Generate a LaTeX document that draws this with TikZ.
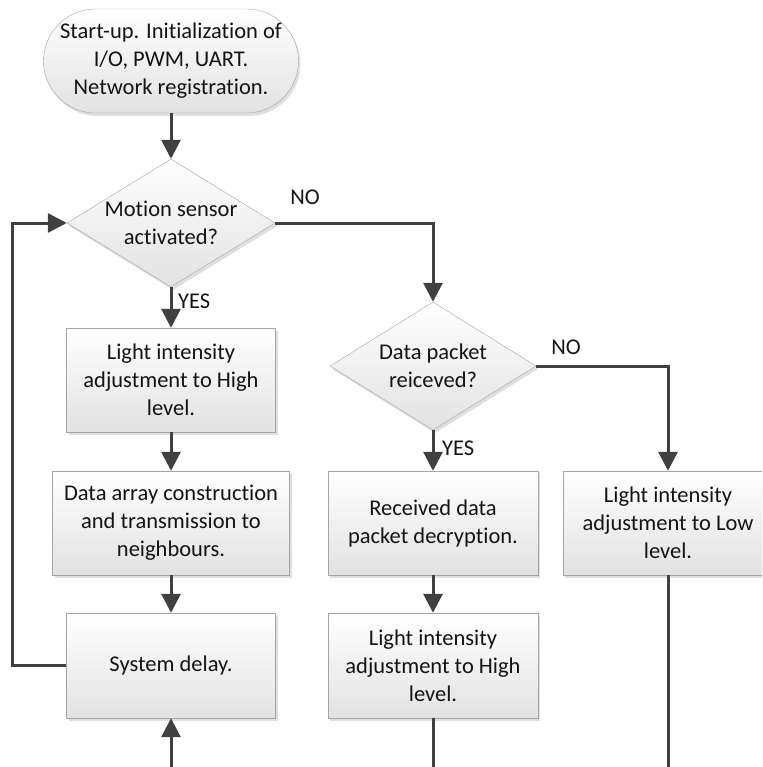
\documentclass[tikz,border=0pt]{standalone}
\usepackage{fontspec}
\setmainfont{Carlito}[Ligatures=NoCommon]
\usetikzlibrary{arrows.meta,shapes.geometric,shadows}

\definecolor{linegray}{RGB}{64,64,64}
\definecolor{boxgray}{RGB}{165,165,165}
\definecolor{fillgray}{RGB}{226,226,226}
\definecolor{textgray}{RGB}{20,20,20}

\begin{document}
\begin{tikzpicture}[
    x=1pt,
    y=-1pt,
    font=\fontsize{22.5}{28}\selectfont,
    every node/.style={
        text=textgray
    },
    start block/.style={
        rectangle,
        rounded corners=52pt,
        draw=boxgray,
        top color=white,
        bottom color=fillgray,
        drop shadow={opacity=0.25, shadow xshift=2pt, shadow yshift=-3pt},
        minimum width=255pt,
        minimum height=104pt,
        inner sep=0pt,
        align=center
    },
    action block/.style={
        rectangle,
        draw=boxgray,
        top color=white,
        bottom color=fillgray,
        drop shadow={opacity=0.25, shadow xshift=2pt, shadow yshift=-3pt},
        minimum width=209pt,
        minimum height=104pt,
        inner sep=0pt,
        align=center
    },
    question block/.style={
        diamond,
        draw=boxgray,
        top color=white,
        bottom color=fillgray,
        drop shadow={opacity=0.25, shadow xshift=2pt, shadow yshift=-3pt},
        minimum width=208pt,
        minimum height=128pt,
        inner sep=0pt
    },
    question text/.style={
        align=center
    },
    connection/.style={
        -{Triangle[width=19pt,length=19pt]},
        draw=linegray,
        line width=3pt
    },
    plain line/.style={
        draw=linegray,
        line width=3pt
    },
    answer/.style={
        inner sep=0pt
    }
]

\useasboundingbox (0,0) rectangle (762,767);
\clip (0,0) rectangle (762,767);

\def\leftcol{171}
\def\midcol{433}
\def\rightcol{668}

%% --- Start ---
\node[start block] (start) at (\leftcol, 61) {Start-up. Initialization of\\I/O, PWM, UART.\\Network registration.};

%% --- Motion sensor ---
\node[question block] (motion) at (\leftcol, 223) {};
\node[question text] (motiontext) at (motion) {Motion sensor\\activated?};

%% --- Left column ---
\node[action block] (highleft) at (\leftcol, 380) {Light intensity\\adjustment to High\\level.};
\node[action block, minimum width=237pt] (array) at (\leftcol, 523) {Data array construction\\and transmission to\\neighbours.};
\node[action block, minimum height=105pt] (delay) at (\leftcol, 665.5) {System delay.};

%% --- Data packet ---
\node[question block, minimum width=206pt] (packet) at (\midcol, 366) {};
\node[question text] (packettext) at (packet) {Data packet\\reiceved?};

%% --- Middle column ---
\node[action block, minimum width=210pt] (decrypt) at (\midcol, 523) {Received data\\packet decryption.};
\node[action block, minimum width=210pt, minimum height=105pt] (highmid) at (\midcol, 665.5) {Light intensity\\adjustment to High\\level.};

%% --- Right column ---
\node[action block, minimum width=210pt] (low) at (\rightcol, 523) {Light intensity\\adjustment to Low\\level.};

%% --- Ends at the lower edge ---
\coordinate (delayin) at (\leftcol, 767);
\coordinate (midout) at (\midcol, 767);
\coordinate (rightout) at (\rightcol, 767);

%% --- Connexions ---
\draw[connection] (start) -- (motion);
\draw[connection] (motion) -- (highleft);
\draw[connection] (highleft) -- (array);
\draw[connection] (array) -- (delay);
\draw[connection] (delayin) -- (delay);
\draw[connection] (delay.west) -- ++(-54,0) |- (motion.west);

\draw[connection] (motion.east) -| (packet.north);
\draw[connection] (packet) -- (decrypt);
\draw[connection] (decrypt) -- (highmid);
\draw[connection] (packet.east) -| (low.north);

\draw[plain line] (highmid) -- (midout);
\draw[plain line] (low) -- (rightout);

%% --- Answers ---
\node[answer, anchor=west] (motionyes) at (178, 301) {YES};
\node[answer] (motionno) at (305, 197) {NO};
\node[answer, anchor=west] (packetyes) at (442, 448) {YES};
\node[answer] (packetno) at (566, 347) {NO};

\end{tikzpicture}
\end{document}
